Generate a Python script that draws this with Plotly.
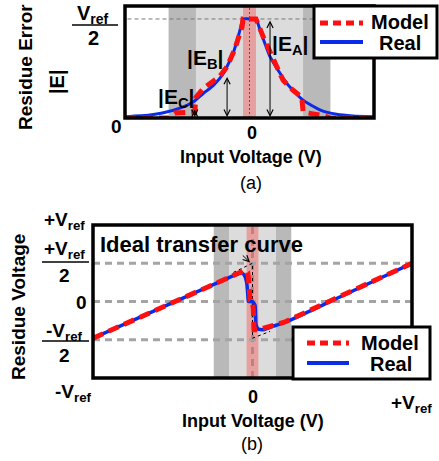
import plotly.graph_objects as go

W, H = 439, 461

# ---------------- panel (a): residue error |E| (units of Vref/2) ----------------
a_real_x = [-1.0, -0.8, -0.7, -0.56, -0.45, -0.37, -0.29, -0.21, -0.13, -0.076, -0.052,
            0.0, 0.052, 0.084, 0.165, 0.30, 0.43, 0.57, 0.70, 0.83, 1.0]
a_real_y = [0.013, 0.03, 0.05, 0.10, 0.165, 0.25, 0.33, 0.45, 0.66, 0.89, 1.0,
            1.0, 1.0, 0.89, 0.62, 0.35, 0.18, 0.08, 0.037, 0.02, 0.012]

a_model_x = [-1.0, -0.65, -0.60, -0.44, -0.43, -0.37, -0.24, -0.18, -0.12, -0.06, -0.052,
             0.052, 0.12, 0.19, 0.27, 0.35, 0.42, 0.43, 0.47, 0.57, 0.65, 1.0]
a_model_y = [0.0, 0.0, 0.05, 0.06, 0.21, 0.30, 0.42, 0.52, 0.69, 0.92, 1.0,
             1.0, 0.79, 0.60, 0.38, 0.28, 0.21, 0.07, 0.05, 0.03, 0.0, 0.0]

a_zones = [0.65, 0.43, 0.052]          # dark / light / red band half-widths
a_ref_level = 1.0                       # Vref/2
a_arrow_x = [0.165, -0.18, -0.44]       # |E_A|, |E_B|, |E_C|
a_arrow_top = [1.0, 0.43, 0.10]
a_arrow_labels = ["|E<sub>A</sub>|", "|E<sub>B</sub>|", "|E<sub>C</sub>|"]

# ---------------- panel (b): residue voltage (units of Vref) ----------------
b_real_x = [-1.0, -0.5, -0.2, -0.12, -0.09, -0.068, -0.05, -0.036, -0.03, -0.026, -0.02,
            0.0, 0.016, 0.022, 0.035, 0.066, 0.12, 0.214, 0.5, 1.0]
b_real_y = [-0.48, -0.015, 0.264, 0.338, 0.365, 0.376, 0.34, 0.24, 0.10, 0.0, 0.0,
            0.0, -0.05, -0.30, -0.36, -0.37, -0.33, -0.264, 0.013, 0.5]

b_model_x = [-1.0, -0.5, -0.15, -0.10, -0.045, -0.03, -0.026, -0.015, 0.0, 0.005, 0.01,
             0.036, 0.13, 0.20, 0.5, 1.0]
b_model_y = [-0.48, -0.015, 0.31, 0.36, 0.41, 0.38, 0.32, 0.02, 0.0, -0.10, -0.37,
             -0.37, -0.31, -0.27, 0.02, 0.5]

b_ideal_x = [-0.12, 0.0, 0.0, 0.11]
b_ideal_y = [0.38, 0.5, -0.48, -0.39]

b_zones = [0.243, 0.147, 0.037]
b_grid = [0.5, 0.0, -0.5]

legend_names = ["Model", "Real"]

RED = "#ff1010"
BLUE = "#0a2be8"
DARK = "#b9b9b9"
LIGHT = "#dcdcdc"
BAND = "#e6a0a0"
FONT = "Liberation Sans, Arial, sans-serif"


def px(x):
    return x / W


def py(y):
    return 1 - y / H


fig = go.Figure()

# traces panel (a)
fig.add_trace(go.Scatter(x=a_real_x, y=a_real_y, mode="lines", name=legend_names[1],
                         line=dict(color=BLUE, width=3, shape="spline", smoothing=0.6),
                         xaxis="x", yaxis="y", showlegend=False))
fig.add_trace(go.Scatter(x=a_model_x, y=a_model_y, mode="lines", name=legend_names[0],
                         line=dict(color=RED, width=5, dash="11px,6px"),
                         xaxis="x", yaxis="y", showlegend=False))
# traces panel (b)
fig.add_trace(go.Scatter(x=b_ideal_x, y=b_ideal_y, mode="lines",
                         line=dict(color="black", width=1, dash="dot"),
                         xaxis="x2", yaxis="y2", showlegend=False))
fig.add_trace(go.Scatter(x=b_real_x, y=b_real_y, mode="lines", name=legend_names[1],
                         line=dict(color=BLUE, width=3.5, shape="spline", smoothing=0.4),
                         xaxis="x2", yaxis="y2", showlegend=False))
fig.add_trace(go.Scatter(x=b_model_x, y=b_model_y, mode="lines", name=legend_names[0],
                         line=dict(color=RED, width=5, dash="11px,6px"),
                         xaxis="x2", yaxis="y2", showlegend=False))

shapes = []


def zones(xr, yr, z):
    dark, light, band = z
    out = []
    out.append(dict(type="rect", xref=xr, yref=yr + " domain", x0=-dark, x1=-light, y0=0, y1=1,
                    fillcolor=DARK, line_width=0, layer="below"))
    out.append(dict(type="rect", xref=xr, yref=yr + " domain", x0=light, x1=dark, y0=0, y1=1,
                    fillcolor=DARK, line_width=0, layer="below"))
    out.append(dict(type="rect", xref=xr, yref=yr + " domain", x0=-light, x1=light, y0=0, y1=1,
                    fillcolor=LIGHT, line_width=0, layer="below"))
    out.append(dict(type="rect", xref=xr, yref=yr + " domain", x0=-band, x1=band, y0=0, y1=1,
                    fillcolor=BAND, line_width=0, layer="below"))
    return out


shapes += zones("x", "y", a_zones)
shapes += zones("x2", "y2", b_zones)

# panel (a) reference line and center dotted line
shapes.append(dict(type="line", xref="x", yref="y", x0=-0.98, x1=1, y0=a_ref_level, y1=a_ref_level,
                   line=dict(color="#777777", width=1, dash="4px,3px"), layer="below"))
shapes.append(dict(type="line", xref="x", yref="y domain", x0=0, x1=0, y0=0, y1=1,
                   line=dict(color="#555555", width=1, dash="2px,2px"), layer="below"))
# panel (b) grid lines and center dashed
for g in b_grid:
    shapes.append(dict(type="line", xref="x2", yref="y2", x0=-1, x1=1, y0=g, y1=g,
                       line=dict(color="#a4a4a4", width=3, dash="7px,5px"), layer="below"))
shapes.append(dict(type="line", xref="x2", yref="y2 domain", x0=0, x1=0, y0=0, y1=1,
                   line=dict(color="#c08080", width=3, dash="7px,5px"), layer="below"))

# frames
shapes.append(dict(type="rect", xref="x domain", yref="y domain", x0=0, x1=1, y0=0, y1=1,
                   line=dict(color="black", width=3.5), layer="above"))
shapes.append(dict(type="rect", xref="x2 domain", yref="y2 domain", x0=0, x1=1, y0=0, y1=1,
                   line=dict(color="black", width=3.5), layer="above"))


def legend_box(x0, y0, x1, y1, ym, yr, lx0, lx1):
    out = [dict(type="rect", xref="paper", yref="paper", x0=px(x0), x1=px(x1), y0=py(y1), y1=py(y0),
                fillcolor="white", line=dict(color="black", width=3), layer="above"),
           dict(type="line", xref="paper", yref="paper", x0=px(lx0), x1=px(lx1), y0=py(ym), y1=py(ym),
                line=dict(color=RED, width=5, dash="8px,5px"), layer="above"),
           dict(type="line", xref="paper", yref="paper", x0=px(lx0), x1=px(lx1), y0=py(yr), y1=py(yr),
                line=dict(color=BLUE, width=4), layer="above")]
    return out


shapes += legend_box(314, 6, 437, 58, 23, 42, 320, 363)
shapes += legend_box(293, 327, 430, 379, 343, 363, 307, 349)

# fraction bars
shapes.append(dict(type="line", xref="paper", yref="paper", x0=px(72), x1=px(118), y0=py(25), y1=py(25),
                   line=dict(color="black", width=1.5)))
shapes.append(dict(type="line", xref="paper", yref="paper", x0=px(42), x1=px(89), y0=py(262), y1=py(262),
                   line=dict(color="black", width=1.5)))
shapes.append(dict(type="line", xref="paper", yref="paper", x0=px(42), x1=px(89), y0=py(341), y1=py(341),
                   line=dict(color="black", width=1.5)))

ann = []


def T(text, x, y, size=19, bold=True, angle=0, xanchor="center"):
    ann.append(dict(text=text, x=px(x), y=py(y), xref="paper", yref="paper", showarrow=False,
                    xanchor=xanchor, yanchor="middle", textangle=angle,
                    font=dict(family=FONT, size=size, color="black",
                              weight="bold" if bold else "normal")))


# panel (a) text
T("Residue Error", 26, 67, 19, angle=-90)
T("|E|", 57, 82, 20, angle=-90)
T("V<sub>ref</sub>", 93, 14, 20)
T("2", 93, 38, 20)
T("0", 116, 126, 19)
T("0", 252, 133, 18)
T("Input Voltage (V)", 251, 157, 18)
T("(a)", 251, 183, 18, bold=False)
T(legend_names[0], 400, 22, 20)
T(legend_names[1], 400, 43, 20)

# arrows (a)
for xa, ya in zip(a_arrow_x, a_arrow_top):
    ann.append(dict(x=xa, y=0.01, ax=xa, ay=ya, xref="x", yref="y", axref="x", ayref="y",
                    text="", showarrow=True, arrowhead=5, startarrowhead=5, arrowside="end+start",
                    arrowwidth=1, arrowcolor="black", arrowsize=1.2, startarrowsize=1.2))
T(a_arrow_labels[0], 290, 45, 21)
T(a_arrow_labels[1], 205, 59, 21)
T(a_arrow_labels[2], 176, 98, 21)

# panel (b) text
T("Residue Voltage", 18, 307, 19, angle=-90)
T("+V<sub>ref</sub>", 64, 221, 19)
T("+V<sub>ref</sub>", 64, 250, 19)
T("2", 64, 275, 19)
T("0", 81, 302, 19)
T("-V<sub>ref</sub>", 64, 332, 19)
T("2", 64, 355, 19)
T("-V<sub>ref</sub>", 73, 393, 19)
T("0", 253, 397, 18)
T("+V<sub>ref</sub>", 411, 404, 19)
T("Input Voltage (V)", 253, 421, 18)
T("(b)", 252, 444, 18, bold=False)
T("Ideal transfer curve", 98, 244, 22, xanchor="left")
T(legend_names[0], 390, 343, 20)
T(legend_names[1], 391, 364, 20)

ann.append(dict(x=-0.015, y=0.51, ax=-0.07, ay=0.62, xref="x2", yref="y2", axref="x2", ayref="y2",
                text="", showarrow=True, arrowhead=5, arrowwidth=1, arrowcolor="black", arrowsize=1.2))

ax_common = dict(showgrid=False, zeroline=False, showticklabels=False, showline=False, ticks="")
fig.update_layout(
    width=W, height=H, margin=dict(l=0, r=0, t=0, b=0),
    paper_bgcolor="white", plot_bgcolor="rgba(0,0,0,0)",
    xaxis=dict(domain=[px(125), px(374)], range=[-1, 1], anchor="y", **ax_common),
    yaxis=dict(domain=[py(118), py(6)], range=[0, 1.131], anchor="x", **ax_common),
    xaxis2=dict(domain=[px(93), px(412)], range=[-1, 1], anchor="y2", **ax_common),
    yaxis2=dict(domain=[py(378), py(225)], range=[-1, 1], anchor="x2", **ax_common),
    shapes=shapes, annotations=ann, showlegend=False,
)

fig.write_html("out.html", config={"displayModeBar": False},
               post_script="document.body.style.margin='0';document.body.style.overflow='hidden';")
